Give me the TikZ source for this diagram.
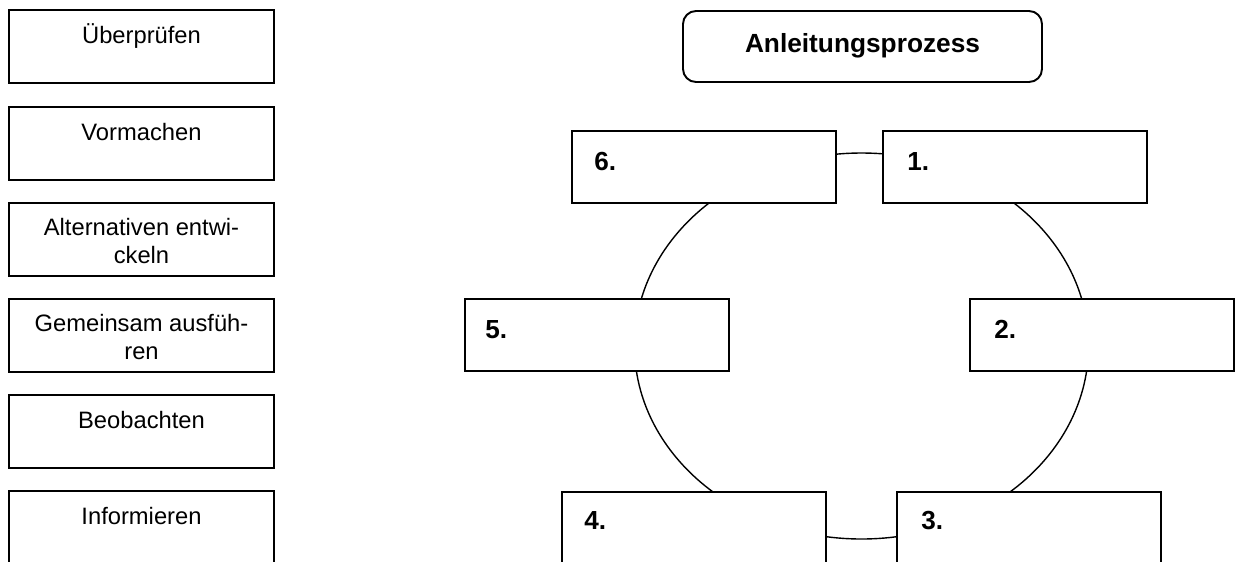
\documentclass[tikz,border=0pt]{standalone}
\usepackage{fontspec}
\setmainfont{Liberation Sans}
\usetikzlibrary{calc}
\begin{document}
\begin{tikzpicture}[x=0.75pt,y=-0.75pt,
  lbox/.style={draw,line width=1.45pt,fill=white,rectangle,inner sep=0pt,outer sep=0pt,
    anchor=north west,minimum width=198.75pt,minimum height=54.75pt},
  rbox/.style={draw,line width=1.45pt,fill=white,rectangle,inner sep=0pt,outer sep=0pt,
    anchor=north west,minimum width=198pt,minimum height=54pt},
  tbox/.style={draw,line width=1.45pt,fill=white,rectangle,rounded corners=9.75pt,inner sep=0pt,
    outer sep=0pt,anchor=north west,minimum width=269.25pt,minimum height=53.25pt},
  ltxt/.style={anchor=base,inner sep=0pt,align=center,font=\fontsize{17.8}{21}\selectfont},
  numtxt/.style={anchor=base west,inner sep=0pt,font=\fontsize{19.6}{23}\selectfont\bfseries},
  ttxt/.style={anchor=base,inner sep=0pt,font=\fontsize{19.7}{23}\selectfont\bfseries},
  ring/.style={line width=1.05pt}]
\useasboundingbox (0,0) rectangle (1235,561);
% left column
\node[lbox] (l1) at (9,10) {};
\node[ltxt] (lt1) at ($(l1.north)+(0,33)$) {Überprüfen};
\node[lbox] (l2) at (9,107) {};
\node[ltxt] (lt2) at ($(l2.north)+(0,33)$) {Vormachen};
\node[lbox] (l3) at (9,203) {};
\node[ltxt] (lt3) at ($(l3.north)+(0,60)$) {Alternativen entwi-\\ckeln};
\node[lbox] (l4) at (9,299) {};
\node[ltxt] (lt4) at ($(l4.north)+(0,60)$) {Gemeinsam ausfüh-\\ren};
\node[lbox] (l5) at (9,395) {};
\node[ltxt] (lt5) at ($(l5.north)+(0,33)$) {Beobachten};
\node[lbox] (l6) at (9,491) {};
\node[ltxt] (lt6) at ($(l6.north)+(0,33)$) {Informieren};
% title
\node[tbox] (title) at (683,11) {};
\node[ttxt] (tt) at ($(title.north)+(0,41)$) {Anleitungsprozess};
% cycle
\draw[ring] (861.5,346) ellipse [x radius=170.25pt, y radius=144.75pt];
\node[rbox] (r6) at (572,131) {};
\node[numtxt] (n6) at ($(r6.north west)+(22,39)$) {6.};
\node[rbox] (r1) at (883,131) {};
\node[numtxt] (n1) at ($(r1.north west)+(24,39)$) {1.};
\node[rbox] (r5) at (465,299) {};
\node[numtxt] (n5) at ($(r5.north west)+(20,39)$) {5.};
\node[rbox] (r2) at (970,299) {};
\node[numtxt] (n2) at ($(r2.north west)+(24,39)$) {2.};
\node[rbox] (r4) at (562,492) {};
\node[numtxt] (n4) at ($(r4.north west)+(22,37)$) {4.};
\node[rbox] (r3) at (897,492) {};
\node[numtxt] (n3) at ($(r3.north west)+(24,37)$) {3.};
\end{tikzpicture}
\end{document}
